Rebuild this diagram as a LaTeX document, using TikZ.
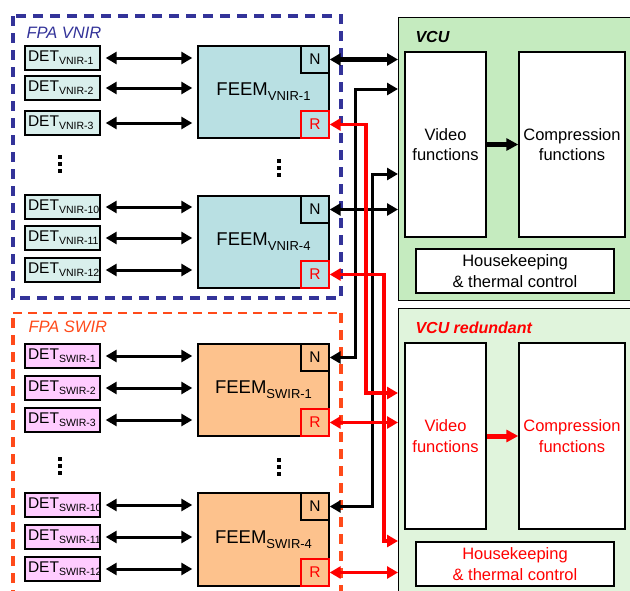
\documentclass[tikz,border=0pt]{standalone}
\usepackage{fontspec}
\setmainfont{Liberation Sans}
\usetikzlibrary{arrows.meta}

\definecolor{figVnir}{HTML}{333399}
\definecolor{figSwir}{HTML}{FF4A1A}
\definecolor{figDetV}{HTML}{D9EFEC}
\definecolor{figFeemV}{HTML}{B9E0E3}
\definecolor{figDetS}{HTML}{FFCCFF}
\definecolor{figFeemS}{HTML}{FDC28D}
\definecolor{figVcu}{HTML}{C5EBBF}
\definecolor{figVcuR}{HTML}{E0F4DC}

\newcommand\lowsub[3][10.5]{\raisebox{-#2}{\fontsize{#1}{#1}\selectfont #3}}

\begin{document}
\begin{tikzpicture}[x=1pt,y=-1pt,>={Triangle[length=11pt,width=12pt]},
  detbox/.style={draw,line width=1.4pt,minimum height=24pt,text width=69pt,inner xsep=3pt,inner ysep=0pt,align=left,font=\fontsize{15.5}{15.5}\selectfont},
  feembox/.style={draw,line width=1.4pt,minimum width=131pt,minimum height=92pt,font=\fontsize{18.5}{18.5}\selectfont},
  portN/.style={draw,line width=1.4pt,minimum width=28pt,minimum height=27pt,inner sep=0pt,font=\fontsize{15.5}{15.5}\selectfont},
  portR/.style={portN,draw=red,text=red},
  fnbox/.style={draw,line width=1.4pt,fill=white,align=center,inner sep=0pt,font=\fontsize{16.5}{20.5}\selectfont},
  vcubox/.style={draw,line width=1.4pt,minimum width=250pt,anchor=north west},
  fpaframe/.style={line width=4.5pt,dash pattern=on 10pt off 7pt},
  fpalabel/.style={anchor=west,font=\fontsize{16.5}{16.5}\selectfont\itshape},
  vculabel/.style={anchor=west,font=\fontsize{16}{16}\selectfont\bfseries\itshape},
  dotmark/.style={fill,minimum size=3.5pt,inner sep=0pt},
  detlink/.style={<->,line width=3pt,shorten <=5pt,shorten >=5pt},
  blklink/.style={<->,line width=3pt},
  redlink/.style={<->,line width=3.6pt,red},
  fatlink/.style={-{Triangle[length=12pt,width=12pt]},line width=5pt}]
\useasboundingbox (0,0) rectangle (630,590);
\clip (0,0) rectangle (630,590);

% FPA frames
\draw[fpaframe,draw=figVnir] (13,16) rectangle (341,298);
\draw[fpaframe,draw=figSwir] (13,600) -- (13,313);
\draw[fpaframe,draw=figSwir,line width=1.8pt,dash pattern=on 9pt off 6pt] (13,313) -- (341,313);
\draw[fpaframe,draw=figSwir] (341,313) -- (341,600);
\node[fpalabel,text=figVnir] (lblV) at (23,33) {FPA VNIR};
\node[fpalabel,text=figSwir] (lblS) at (25,327) {FPA SWIR};

% VNIR detectors
\node[detbox,fill=figDetV] (detV1) at (62.5,58) {DET\lowsub{3pt}{VNIR-1}};
\node[detbox,fill=figDetV] (detV2) at (62.5,88) {DET\lowsub{3pt}{VNIR-2}};
\node[detbox,fill=figDetV] (detV3) at (62.5,123) {DET\lowsub{3pt}{VNIR-3}};
\node[detbox,fill=figDetV] (detV10) at (62.5,207) {DET\lowsub{3pt}{VNIR-10}};
\node[detbox,fill=figDetV] (detV11) at (62.5,238) {DET\lowsub{3pt}{VNIR-11}};
\node[detbox,fill=figDetV] (detV12) at (62.5,270) {DET\lowsub{3pt}{VNIR-12}};

% SWIR detectors
\node[detbox,fill=figDetS] (detS1) at (62.5,356) {DET\lowsub{3pt}{SWIR-1}};
\node[detbox,fill=figDetS] (detS2) at (62.5,388) {DET\lowsub{3pt}{SWIR-2}};
\node[detbox,fill=figDetS] (detS3) at (62.5,420) {DET\lowsub{3pt}{SWIR-3}};
\node[detbox,fill=figDetS] (detS10) at (62.5,505) {DET\lowsub{3pt}{SWIR-10}};
\node[detbox,fill=figDetS] (detS11) at (62.5,537) {DET\lowsub{3pt}{SWIR-11}};
\node[detbox,fill=figDetS] (detS12) at (62.5,569) {DET\lowsub{3pt}{SWIR-12}};

% front-end modules
\node[feembox,fill=figFeemV] (feemV1) at (263.5,92) {FEEM\lowsub[13]{5pt}{VNIR-1}};
\node[feembox,fill=figFeemV] (feemV4) at (263.5,242) {FEEM\lowsub[13]{5pt}{VNIR-4}};
\node[feembox,fill=figFeemS] (feemS1) at (263.5,390) {FEEM\lowsub[13]{5pt}{SWIR-1}};
\node[feembox,fill=figFeemS,minimum height=93pt] (feemS4) at (263.5,539.5) {FEEM\lowsub[13]{5pt}{SWIR-4}};

% elided rows
\foreach \dy in {0,7,14} {
  \node[dotmark] at (60,157+\dy) {};
  \node[dotmark] at (279,161+\dy) {};
  \node[dotmark] at (60,459+\dy) {};
  \node[dotmark] at (279,460+\dy) {};
}

\node[portN,anchor=north east] (nV1) at (feemV1.north east) {N};
\node[portR,anchor=south east] (rV1) at (feemV1.south east) {R};
\node[portN,anchor=north east] (nV4) at (feemV4.north east) {N};
\node[portR,anchor=south east] (rV4) at (feemV4.south east) {R};
\node[portN,anchor=north east] (nS1) at (feemS1.north east) {N};
\node[portR,anchor=south east] (rS1) at (feemS1.south east) {R};
\node[portN,anchor=north east] (nS4) at (feemS4.north east) {N};
\node[portR,anchor=south east] (rS4) at (feemS4.south east) {R};

% VCU and its redundant twin
\node[vcubox,fill=figVcu,minimum height=283pt] (vcu) at (398,17) {};
\node[vcubox,fill=figVcuR,minimum height=300pt] (vcuR) at (398,308) {};
\node[vculabel] (lblVcu) at (412,37) {VCU};
\node[vculabel,text=red] (lblVcuR) at (412,328) {VCU redundant};

\node[fnbox,minimum width=81pt,minimum height=185pt] (vidA) at (445.5,144.5) {Video\\functions};
\node[fnbox,minimum width=106pt,minimum height=185pt] (compA) at (572,144.5) {Compression\\functions};
\node[fnbox,minimum width=198pt,minimum height=44pt] (hkA) at (515,271) {Housekeeping\\\& thermal control};
\node[fnbox,text=red,minimum width=81pt,minimum height=186pt] (vidB) at (445.5,436) {Video\\functions};
\node[fnbox,text=red,minimum width=106pt,minimum height=186pt] (compB) at (572,436) {Compression\\functions};
\node[fnbox,text=red,minimum width=198pt,minimum height=44pt] (hkB) at (515,564) {Housekeeping\\\& thermal control};

\draw[fatlink] (vidA) -- (compA);
\draw[fatlink,red] (vidB) -- (compB);

% detector links
\draw[detlink] (detV1) -- (detV1 -| feemV1.west);
\draw[detlink] (detV2) -- (detV2 -| feemV1.west);
\draw[detlink] (detV3) -- (detV3 -| feemV1.west);
\draw[detlink] (detV10) -- (detV10 -| feemV4.west);
\draw[detlink] (detV11) -- (detV11 -| feemV4.west);
\draw[detlink] (detV12) -- (detV12 -| feemV4.west);
\draw[detlink] (detS1) -- (detS1 -| feemS1.west);
\draw[detlink] (detS2) -- (detS2 -| feemS1.west);
\draw[detlink] (detS3) -- (detS3 -| feemS1.west);
\draw[detlink] (detS10) -- (detS10 -| feemS4.west);
\draw[detlink] (detS11) -- (detS11 -| feemS4.west);
\draw[detlink] (detS12) -- (detS12 -| feemS4.west);

% nominal links
\coordinate (jN1) at (398,89);
\coordinate (jN4) at (398,174);
\draw[blklink,line width=4.2pt] (nV1) -- (nV1 -| vcu.west);
\draw[blklink] (nV4) -- (nV4 -| vcu.west);
\draw[blklink] (nS1.east) -- ++(26,0) |- (jN1);
\draw[blklink] (nS4.east) -- ++(43,0) |- (jN4);

% redundant links
\coordinate (jR1) at (398,393);
\coordinate (jR4) at (398,541);
\draw[redlink] (rV1.east) -- ++(36,0) |- (jR1);
\draw[redlink] (rV4.east) -- ++(54,0) |- (jR4);
\draw[redlink] (rS1) -- (rS1 -| vcuR.west);
\draw[redlink] (rS4) -- (rS4 -| vcuR.west);
\end{tikzpicture}
\end{document}
